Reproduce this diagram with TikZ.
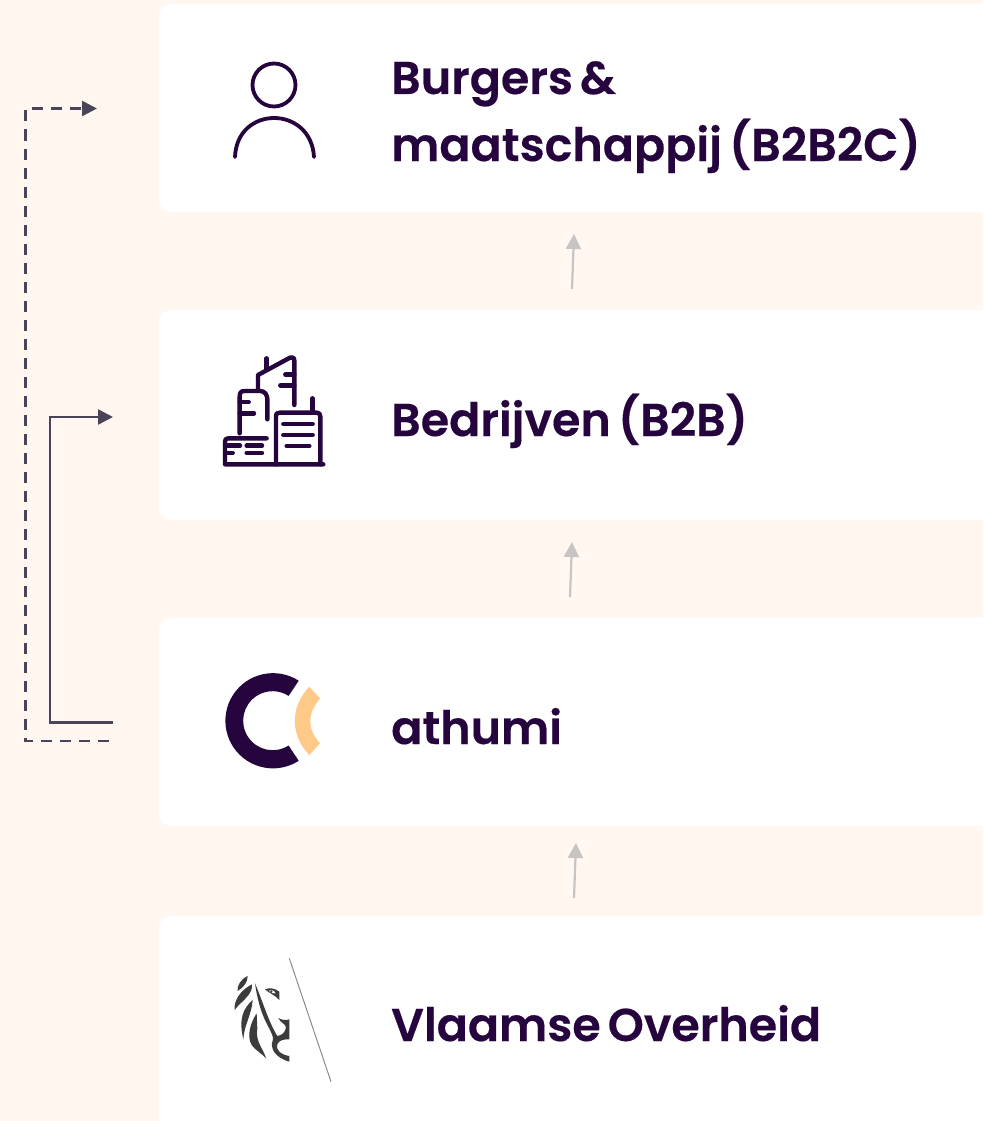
\documentclass[tikz,border=0pt]{standalone}
\usepackage{fontspec}
\setmainfont{Poppins}[BoldFont={Poppins SemiBold},BoldFeatures={FakeBold=0.35}]
\usetikzlibrary{arrows.meta}
\definecolor{bgc}{HTML}{FFF7F0}
\definecolor{ink}{HTML}{26053F}
\definecolor{linec}{HTML}{4A4458}
\definecolor{graya}{HTML}{C9C4C4}
\definecolor{peach}{HTML}{FFC988}
\definecolor{lion}{HTML}{3C3C3C}
\tikzset{
  card/.style={fill=white,draw=none,rounded corners=12pt},
  title/.style={anchor=base west,inner sep=0pt,text=ink,font=\fontsize{46}{46}\selectfont\bfseries,execute at begin node={\spaceskip 7pt\relax}},
  uparrow/.style={draw=graya,line width=2.2pt,-{Triangle[length=15pt,width=15pt]}},
  flow/.style={draw=linec,line width=2.4pt,-{Triangle[length=15pt,width=15pt]}},
  flowdash/.style={flow,dash pattern=on 11pt off 8pt},
  ico/.style={draw=ink,line width=4.4pt,line cap=round,line join=round,fill=none}
}
\begin{document}
\begin{tikzpicture}[x=1pt,y=-1pt]
\useasboundingbox (0,0) rectangle (983,1121);
\fill[bgc] (0,0) rectangle (983,1121);
% cards
\begin{scope}
\clip (0,0) rectangle (983,1121);
\path[card] (159,4) rectangle (1000,212);
\path[card] (159,310) rectangle (1000,520);
\path[card] (159,618) rectangle (1000,826);
\path[card] (159,916) rectangle (1000,1140);
\end{scope}
% titles
\node[title] (t1) at (391,94) {Burgers \&};
\node[title] (t2) at (391,161) {maatschappij (B2B2C)};
\node[title] (t3) at (391,436) {Bedrijven (B2B)};
\node[title] (t4) at (391,744) {athumi};
\node[title] (t5) at (391,1041) {Vlaamse Overheid};
% vertical arrows
\coordinate (a1s) at (572,289); \coordinate (a1e) at (574,234);
\coordinate (a2s) at (570,597); \coordinate (a2e) at (572,542);
\coordinate (a3s) at (574,898); \coordinate (a3e) at (576,843);
\draw[uparrow] (a1s) -- (a1e);
\draw[uparrow] (a2s) -- (a2e);
\draw[uparrow] (a3s) -- (a3e);
% side connectors
\coordinate (ds) at (109,741); \coordinate (dc1) at (25.5,741); \coordinate (dc2) at (25.5,108.5); \coordinate (de) at (97,108.5);
\coordinate (ss) at (113,722.5); \coordinate (sc1) at (50,722.5); \coordinate (sc2) at (50,417); \coordinate (se) at (113,417);
\draw[flowdash] (ds) -- (dc1) -- (dc2) -- (de);
\draw[flow] (ss) -- (sc1) -- (sc2) -- (se);
% person icon
\draw[ico,line width=3.8pt] (274,85) circle[radius=21.5];
\draw[ico,line width=3.8pt] (235,157) .. controls (237,105) and (311,105) .. (314,157);
% building icon
\begin{scope}[shift={(200,340)},x=0.3333pt,y=-0.3333pt]
\draw[ico] (200,55) -- (200,88);
\draw[ico] (174,150) -- (174,105) -- (270,53) .. controls (278,50) and (283,53) .. (283,62) -- (283,195);
\draw[ico] (283,103) -- (256,103);
\draw[ico] (283,137) -- (241,137);
\draw[ico] (119,280) -- (119,170) .. controls (119,155) and (125,153) .. (135,153) -- (180,153) .. controls (195,153) and (202,165) .. (202,178) -- (202,238);
\draw[ico] (119,186) -- (146,186);
\draw[ico] (119,220) -- (162,220);
\draw[ico] (370,373) -- (75,373) -- (75,305) .. controls (75,298) and (78,295) .. (85,295) -- (200,295);
\draw[ico] (228,373) -- (228,230) .. controls (228,220) and (232,218) .. (240,218) -- (350,218) .. controls (358,218) and (361,222) .. (361,230) -- (361,373);
\draw[ico] (337,175) -- (337,218);
\draw[ico] (250,252) -- (338,252);
\draw[ico] (250,285) -- (338,285);
\draw[ico] (260,318) -- (328,318);
\draw[ico] (75,317) -- (120,317);
\draw[ico] (140,317) -- (186,317);
\draw[ico] (75,339) -- (98,339);
\draw[ico] (140,339) -- (186,339);
\end{scope}
% athumi logo
\fill[ink] (298.7,680.7) arc[start angle=-57.3,end angle=-302.7,radius=47.6] -- (288.6,745.5) arc[start angle=-302.7,end angle=-57.3,radius=29.5] -- cycle;
\fill[peach] (309.3,686.7) -- (320,698.3) .. controls (307,714) and (307,729) .. (320,743.3) -- (309.3,755) .. controls (290,735) and (290,707) .. (309.3,686.7) -- cycle;
% lion logo
\draw[draw=black!45,line width=1pt] (289.3,958.3) -- (331,1081.7);
\begin{scope}[shift={(200,950)},x=0.3333pt,y=-0.3333pt]
\fill[lion] (143,78) .. controls (122,88) and (110,108) .. (113,123) .. controls (130,112) and (143,98) .. (143,78) -- cycle;
\fill[lion] (156,103) .. controls (125,118) and (100,150) .. (104,180) .. controls (118,158) and (160,135) .. (156,103) -- cycle;
\fill[lion] (158,150) .. controls (130,175) and (115,205) .. (130,268) .. controls (132,225) and (155,195) .. (158,150) -- cycle;
\fill[lion] (170,190) .. controls (150,220) and (140,260) .. (155,285) .. controls (165,300) and (185,310) .. (198,325) .. controls (190,295) and (165,275) .. (172,235) -- cycle;
\fill[lion] (165,100) .. controls (170,135) and (180,185) .. (204,228) .. controls (215,250) and (222,262) .. (218,272) .. controls (210,292) and (222,322) .. (268,335) -- (268,318) .. controls (245,315) and (225,300) .. (232,282) .. controls (240,268) and (255,268) .. (268,268) -- (268,208) .. controls (258,212) and (245,210) .. (235,204) .. controls (240,218) and (258,222) .. (258,232) .. controls (256,248) and (245,256) .. (232,258) .. controls (205,215) and (185,145) .. (165,100) -- cycle;
\fill[lion] (195,118) .. controls (210,112) and (225,115) .. (238,125) -- (238,150) .. controls (225,135) and (208,130) .. (195,118) -- cycle;
\fill[white] (206,122) .. controls (212,118) and (222,120) .. (227,130) .. controls (218,132) and (210,128) .. (206,122) -- cycle;
\fill[lion] (214,125) circle[radius=4];
\end{scope}
\end{tikzpicture}
\end{document}
